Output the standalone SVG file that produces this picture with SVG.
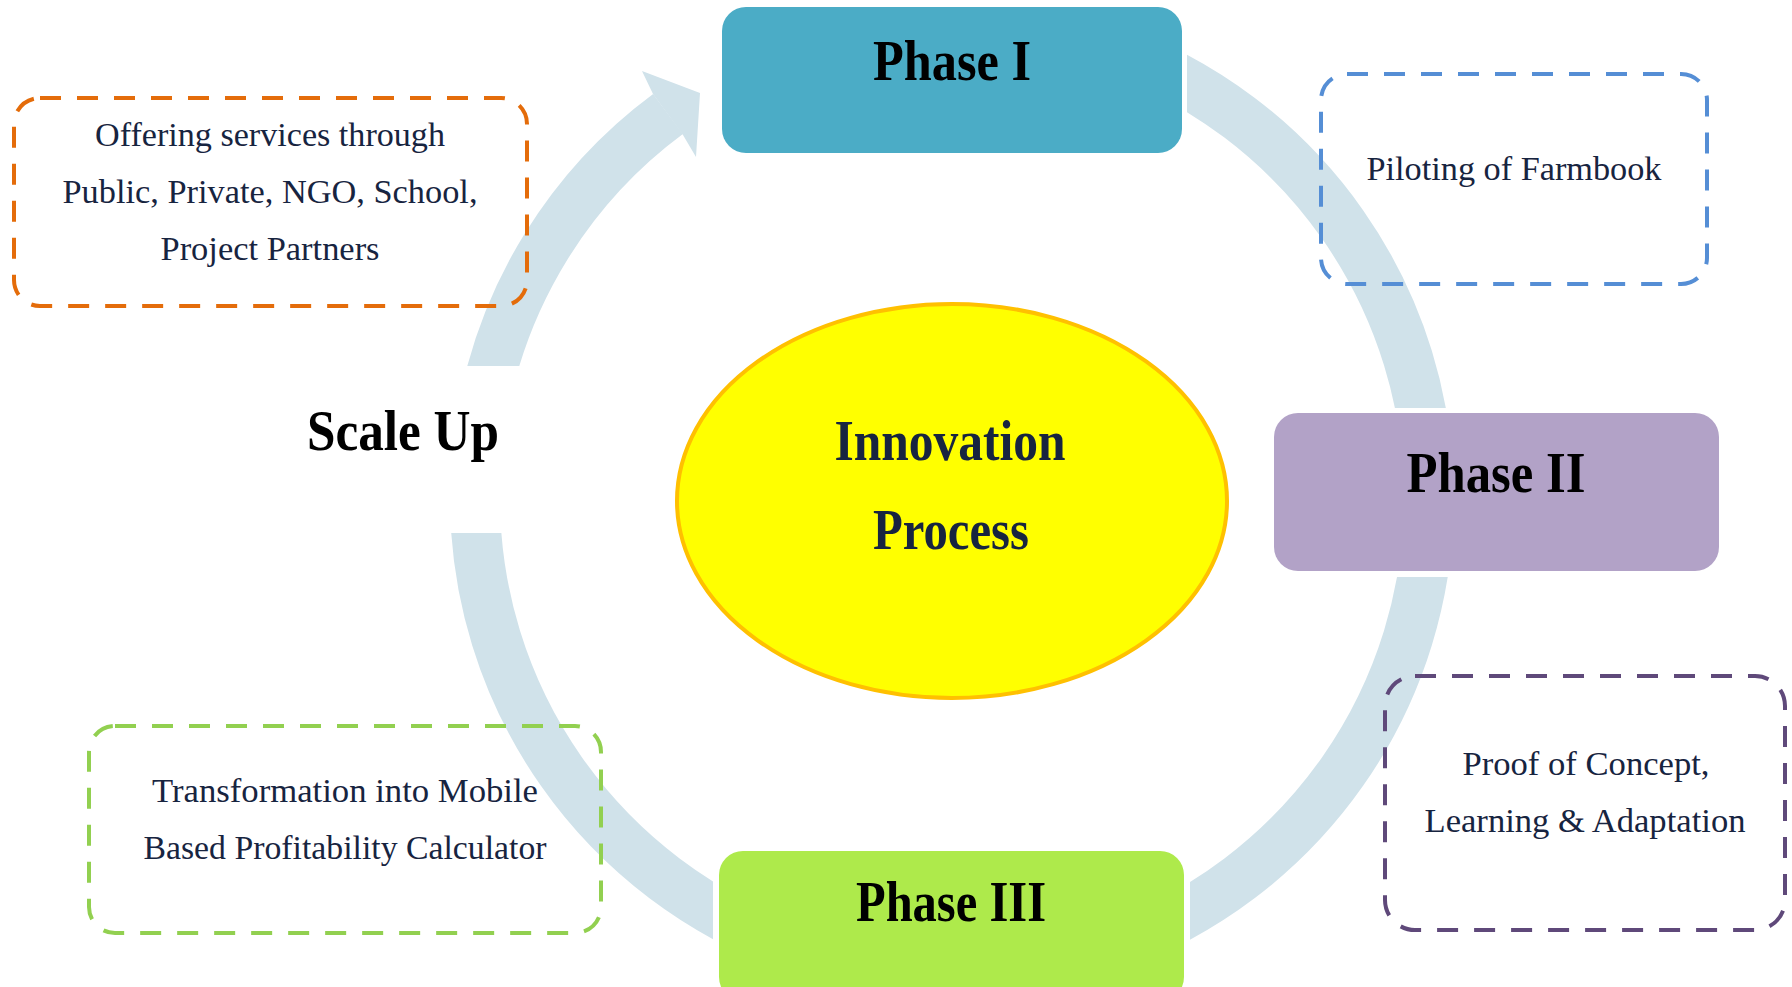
<svg xmlns="http://www.w3.org/2000/svg" width="1792" height="987" viewBox="0 0 1792 987">
<style>
.ring{fill:none;stroke:#D0E2EA;stroke-width:50;stroke-linecap:butt}
.phase{font-family:"Liberation Serif",serif;font-weight:bold;font-size:57px;fill:#000;text-anchor:middle}
.big{font-family:"Liberation Serif",serif;font-weight:bold;font-size:56px;fill:#172440;text-anchor:middle}
.note{font-family:"Liberation Serif",serif;font-size:34px;fill:#172440;text-anchor:middle}
.dash{fill:none;stroke-width:4;stroke-dasharray:21 16}
</style>
<defs>
<clipPath id="cA"><rect x="-10" y="-20" width="1000" height="386"/></clipPath>
<clipPath id="cB"><rect x="1187" y="-20" width="700" height="428"/></clipPath>
<clipPath id="cC"><rect x="1190" y="577" width="700" height="500"/></clipPath>
<clipPath id="cD"><rect x="-10" y="533" width="723" height="500"/></clipPath>
</defs>
<rect width="1792" height="987" fill="#fff"/>
<g id="connectors">
<path class="ring" clip-path="url(#cA)" d="M482,415 A477,477 0 0 1 668,114"/>
<polygon fill="#D0E2EA" points="653,94 642,71 700,93 696,157 683,135"/>
<path class="ring" clip-path="url(#cB)" d="M1115,50 A477,477 0 0 1 1429,498"/>
<path class="ring" clip-path="url(#cC)" d="M1429,498 A477,477 0 0 1 1115,946"/>
<path class="ring" clip-path="url(#cD)" d="M789,946 A477,477 0 0 1 475,498"/>
</g>
<g id="phase1">
<rect x="722" y="7" width="460" height="146" rx="24" fill="#4BACC6"/>
<text class="phase" x="952" y="80" textLength="158" lengthAdjust="spacingAndGlyphs">Phase I</text>
</g>
<g id="phase2">
<rect x="1274" y="413" width="445" height="158" rx="24" fill="#B2A2C7"/>
<text class="phase" x="1496" y="492" textLength="179" lengthAdjust="spacingAndGlyphs">Phase II</text>
</g>
<g id="phase3">
<rect x="719" y="851" width="465" height="150" rx="24" fill="#AEEA4B"/>
<text class="phase" x="951" y="921" textLength="190" lengthAdjust="spacingAndGlyphs">Phase III</text>
</g>
<g id="scaleup">
<text class="phase" x="403" y="450" textLength="192" lengthAdjust="spacingAndGlyphs">Scale Up</text>
</g>
<g id="innovation">
<ellipse cx="952" cy="501" rx="275" ry="197" fill="#FFFF00" stroke="#FFC000" stroke-width="4"/>
<text class="big" x="950" y="460" textLength="231" lengthAdjust="spacingAndGlyphs">Innovation</text>
<text class="big" x="951" y="549" textLength="156" lengthAdjust="spacingAndGlyphs">Process</text>
</g>
<g id="note-scaleup">
<rect class="dash" x="14" y="98" width="513" height="208" rx="26" stroke="#E46C0A"/>
<text class="note" x="270" y="146" textLength="350" lengthAdjust="spacingAndGlyphs">Offering services through</text>
<text class="note" x="270" y="203" textLength="415" lengthAdjust="spacingAndGlyphs">Public, Private, NGO, School,</text>
<text class="note" x="270" y="260" textLength="219" lengthAdjust="spacingAndGlyphs">Project Partners</text>
</g>
<g id="note-phase1">
<rect class="dash" x="1321" y="74" width="386" height="210" rx="26" stroke="#558ED5"/>
<text class="note" x="1514" y="180" textLength="295" lengthAdjust="spacingAndGlyphs">Piloting of Farmbook</text>
</g>
<g id="note-phase2">
<rect class="dash" x="1385" y="676" width="400" height="254" rx="30" stroke="#5F497A"/>
<text class="note" x="1586" y="775" textLength="247" lengthAdjust="spacingAndGlyphs">Proof of Concept,</text>
<text class="note" x="1585" y="832" textLength="321" lengthAdjust="spacingAndGlyphs">Learning &amp; Adaptation</text>
</g>
<g id="note-phase3">
<rect class="dash" x="89" y="726" width="512" height="207" rx="26" stroke="#92D050"/>
<text class="note" x="345" y="802" textLength="386" lengthAdjust="spacingAndGlyphs">Transformation into Mobile</text>
<text class="note" x="345" y="859" textLength="403" lengthAdjust="spacingAndGlyphs">Based Profitability Calculator</text>
</g>
</svg>
